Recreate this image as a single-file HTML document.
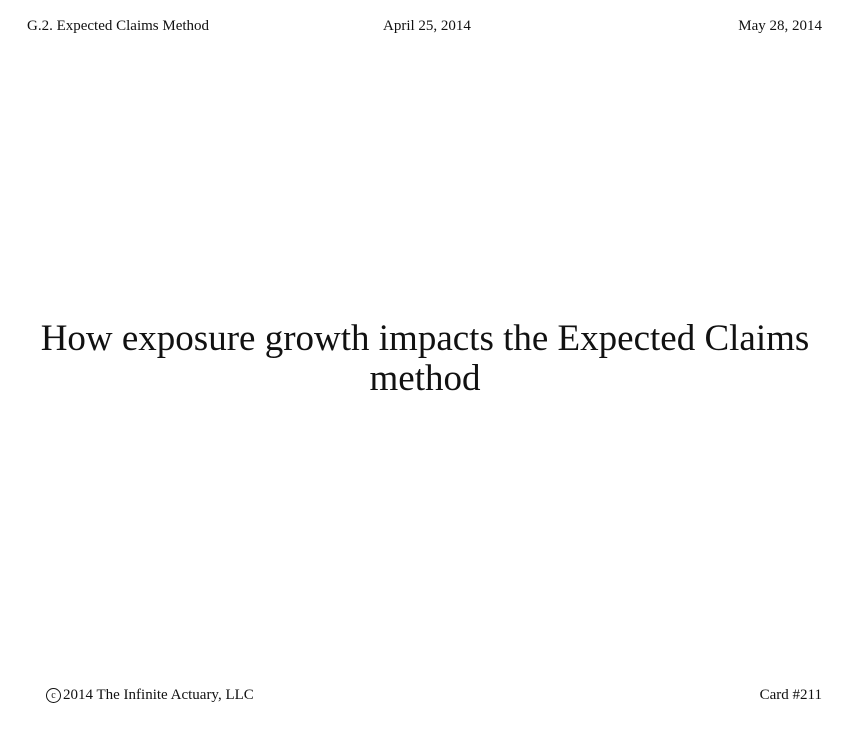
<!DOCTYPE html>
<html><head><meta charset="utf-8"><style>
html,body{margin:0;padding:0;background:#fff;}
body{width:850px;height:734px;position:relative;font-family:"Liberation Serif",serif;color:#111;overflow:hidden;}
.t{position:absolute;font-size:15px;white-space:nowrap;}
#title{position:absolute;left:0;width:850px;top:319px;text-align:center;font-size:37px;line-height:40px;}
.c{display:inline-block;width:13px;height:13px;border:1px solid #111;border-radius:50%;font-size:10px;line-height:13px;text-align:center;vertical-align:1px;margin-right:2px;}
</style></head><body>
<div class="t" style="left:27px;top:18px">G.2. Expected Claims Method</div>
<div class="t" style="left:383px;top:18px">April 25, 2014</div>
<div class="t" style="right:28px;top:18px">May 28, 2014</div>
<div id="title">How exposure growth impacts the Expected Claims<br>method</div>
<div class="t" style="left:46px;top:687px"><span class="c">c</span>2014 The Infinite Actuary, LLC</div>
<div class="t" style="right:28px;top:687px">Card #211</div>
</body></html>
